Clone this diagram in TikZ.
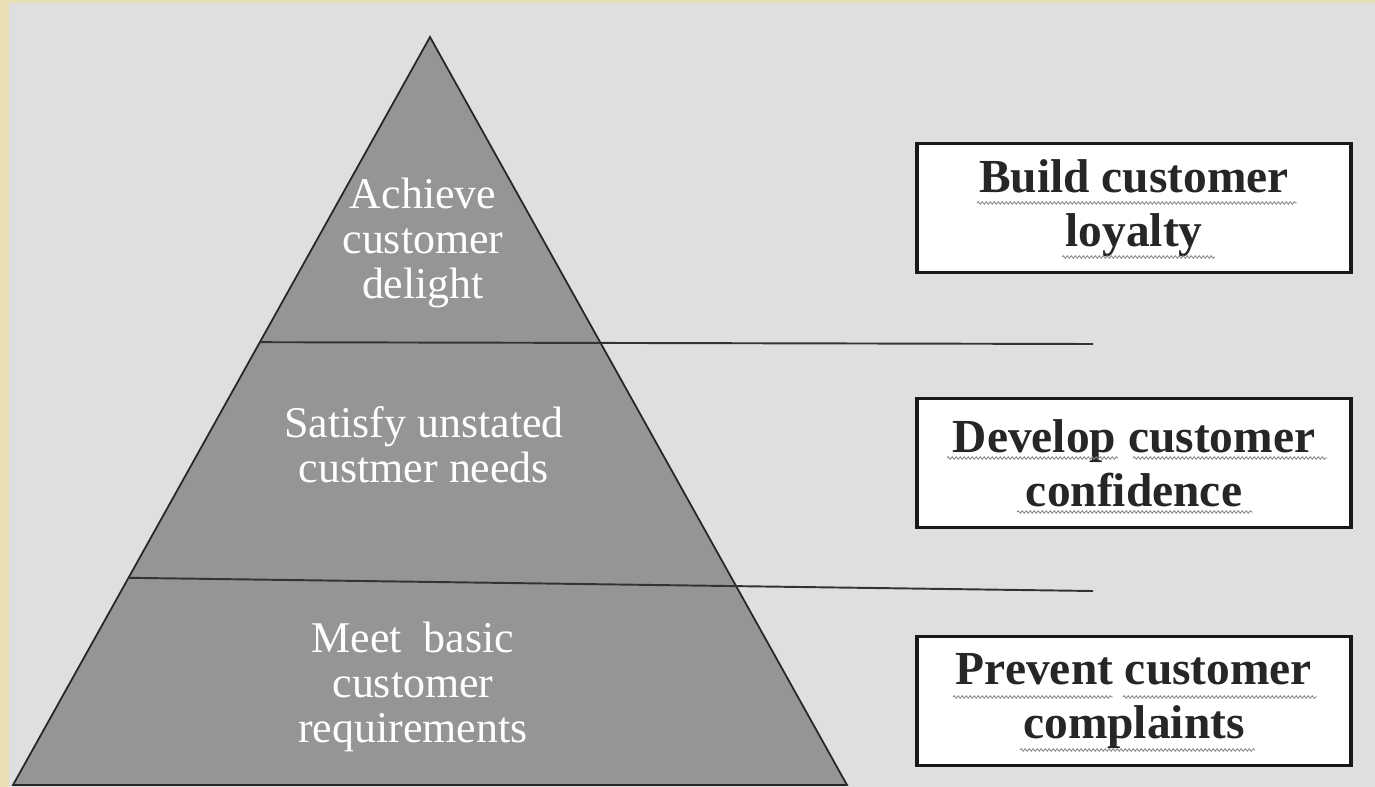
\documentclass[tikz,border=0pt]{standalone}
\usepackage{fontspec}
\setmainfont{Liberation Serif}
\usetikzlibrary{calc,positioning,decorations.pathmorphing}

\definecolor{paper}{HTML}{E8E0B4}
\definecolor{slide}{HTML}{DFDFDF}
\definecolor{level}{HTML}{959595}
\definecolor{squiggle}{HTML}{8A8A8A}

\begin{document}
\begin{tikzpicture}[x=0.02cm,y=-0.02cm,
    goal/.style={draw=black!90,line width=1.8pt,fill=white,minimum width=8.68cm,
      minimum height=2.58cm,align=center,text=black!85,
      font=\fontsize{27}{30.6}\selectfont\bfseries},
    tier/.style={align=center,text=white,inner sep=0pt,
      font=\fontsize{25}{25.5}\selectfont},
    split/.style={line width=1.1pt,black!80},
    wave/.style={squiggle,line width=0.5pt,decorate,
      decoration={snake,segment length=0.08cm,amplitude=0.025cm}}]
  \useasboundingbox[fill=paper] (0,0) rectangle (1375,787);
  \fill[slide] (9,3) rectangle (1375,787);

  % pyramid
  \coordinate (apex) at (430,37);
  \coordinate (bl) at (13,785);
  \coordinate (br) at (847,785);
  \draw[fill=level,draw=black!85,line width=1pt] (apex) -- (bl) -- (br) -- cycle;

  \node[tier] (delight) at (423,243) {Achieve\\customer\\delight};
  \node[tier] (unstated) at (424,445) {Satisfy unstated\\custmer needs};
  \node[tier] (basic) at (413,687) {Meet\ \ basic\\customer\\requirements};

  % boxes on the right
  \node[goal] (loyalty) at (1134,208) {Build customer\\loyalty};
  \node[goal] (confidence) at (1134,463) {Develop customer\\confidence};
  \node[goal] (complaints) at (1134,701) {Prevent customer\\complaints};

  % spell-check waves under the words
  \draw[wave] (977,203) -- (1297,203);
  \draw[wave] (1062,257) -- (1215,257);
  \draw[wave] (947,458) -- (1118,458);
  \draw[wave] (1133,458) -- (1327,458);
  \draw[wave] (1017,512) -- (1253,512);
  \draw[wave] (953,697) -- (1113,697);
  \draw[wave] (1123,697) -- (1317,697);
  \draw[wave] (1020,750) -- (1255,750);

  % dividing lines
  \coordinate (cut1) at ($(apex)!0.408!(bl)$);
  \coordinate (cut2) at ($(apex)!0.723!(bl)$);
  \coordinate (end1) at (1093,344);
  \coordinate (end2) at (1093,591);
  \draw[split] (cut1) -- (end1);
  \draw[split] (cut2) -- (end2);
\end{tikzpicture}
\end{document}
